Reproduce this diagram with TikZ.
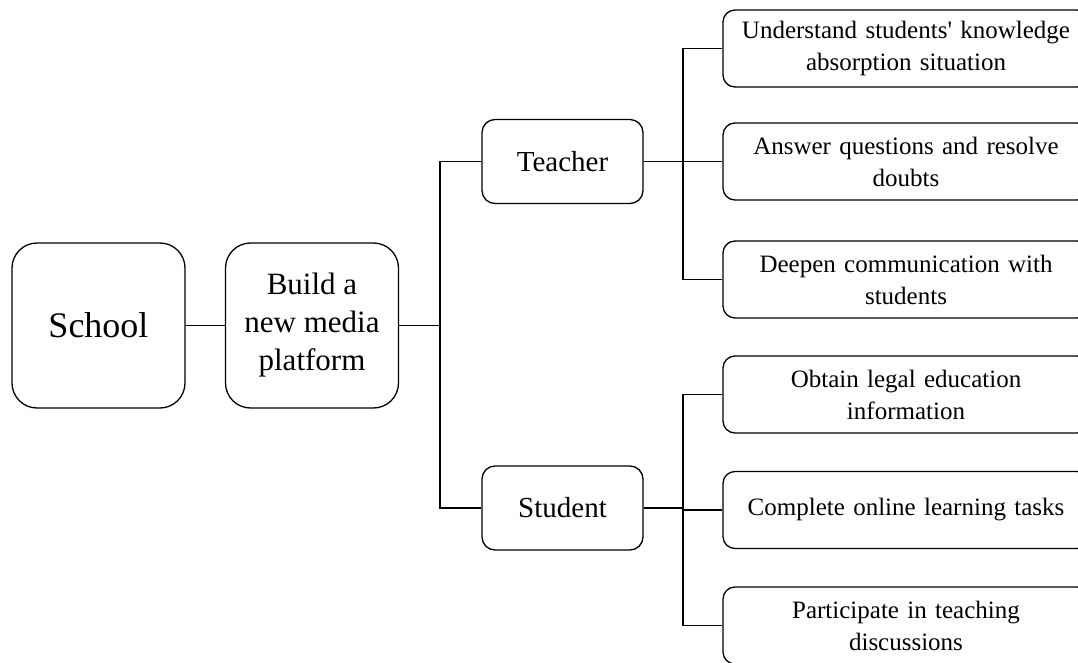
\documentclass[tikz,border=0pt]{standalone}
\usepackage{fontspec}
\setmainfont{Liberation Serif}[Ligatures=TeXOff]
\begin{document}
\begin{tikzpicture}[x=1pt,y=-1pt,
  box/.style={draw=black,line width=1.3pt,align=center,inner sep=0pt},
  bigbox/.style={box,minimum width=173pt,minimum height=165pt,rounded corners=25pt},
  midbox/.style={box,minimum width=161pt,minimum height=84pt,rounded corners=13pt,font=\fontsize{29}{34}\selectfont},
  leaf/.style={box,minimum width=366pt,minimum height=77pt,rounded corners=12pt,text width=350pt,font=\fontsize{25}{32}\selectfont},
  link/.style={draw=black,line width=1.3pt}]
\useasboundingbox (0,0) rectangle (1078,663);
\clip (0,0) rectangle (1078,663);
\fill[white] (0,0) rectangle (1078,663);
\node[bigbox,font=\fontsize{36}{40}\selectfont] (school) at (98.5,325.5) {School};
\node[bigbox,font=\fontsize{31}{38}\selectfont] (build) at (312,325.5) {Build a\\new media\\platform};
\node[midbox] (teacher) at (562.5,161.5) {Teacher};
\node[midbox] (student) at (562.5,508) {Student};
\node[leaf] (l1) at (906,48.5) {Understand students' knowledge\\absorption situation};
\node[leaf] (l2) at (906,161.5) {Answer questions and resolve\\doubts};
\node[leaf] (l3) at (906,279.5) {Deepen communication with\\students};
\node[leaf] (l4) at (906,394.5) {Obtain legal education\\information};
\node[leaf] (l5) at (906,510) {Complete online learning tasks};
\node[leaf] (l6) at (906,625.5) {Participate in teaching\\discussions};
\coordinate (j) at (440,325.5);
\coordinate (jt) at (683,161.5);
\coordinate (js) at (683,508);
\draw[link] (school) -- (build);
\draw[link] (build) -- (j);
\draw[link] (j) |- (teacher.west);
\draw[link] (j) |- (student.west);
\draw[link] (teacher) -- (jt);
\draw[link] (jt) |- (l1.west);
\draw[link] (jt) -- (l2.west);
\draw[link] (jt) |- (l3.west);
\draw[link] (student) -- (js);
\draw[link] (js) |- (l4.west);
\draw[link] (js) |- (l5.west);
\draw[link] (js) |- (l6.west);
\end{tikzpicture}
\end{document}
